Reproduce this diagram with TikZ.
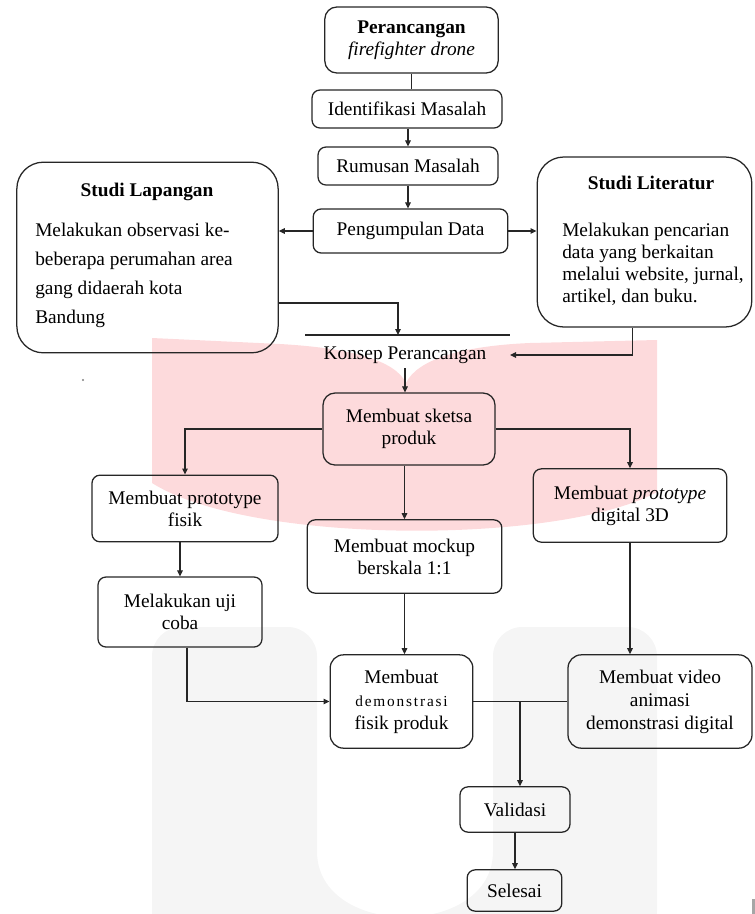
\documentclass[tikz,border=0pt]{standalone}
\usepackage{fontspec}
\setmainfont{Liberation Serif}
\newfontfamily\spacedfont[LetterSpace=12]{Liberation Serif}
\usetikzlibrary{calc,arrows.meta,positioning}
\definecolor{linec}{HTML}{262626}
\definecolor{wmred}{HTML}{FDDADC}
\definecolor{wmgray}{HTML}{F5F5F5}
\tikzset{
  ar/.style={-{Triangle[length=4.5pt,width=4.2pt]},line width=0.85pt,linec},
  ln/.style={line width=0.85pt,linec},
  box/.style={draw=linec,line width=0.95pt,rounded corners=6pt,align=center,inner sep=2pt},
  bigbox/.style={box,rounded corners=20pt},
  ttl/.style={font=\fontsize{14.5}{16.5}\selectfont\bfseries},
  body/.style={anchor=west,align=left,inner sep=0pt}
}
\begin{document}
\begin{tikzpicture}[x=0.75pt,y=-0.75pt,every node/.style={font=\fontsize{14.5}{16.5}\selectfont}]
\useasboundingbox (0,0) rectangle (755,914);
% watermark behind the chart
\begin{scope}
\clip (0,0) rectangle (755,914);
\fill[wmred] (152,338) -- (280,344) .. controls (350,348) and (395,360) .. (406,383)
  .. controls (417,360) and (460,346) .. (530,343) -- (657,340) -- (657,492)
  .. controls (560,545) and (250,545) .. (152,483) -- cycle;
\fill[wmgray,rounded corners=22pt] (152,940) -- (152,627) -- (317,627) -- (317,822)
  .. controls (317,939) and (493,939) .. (493,822) -- (493,627) -- (657,627) -- (657,940) -- cycle;
\end{scope}
\fill[gray] (83,380) circle (0.9pt);
\fill[gray!70] (752,899) rectangle (755,914);

% main column
\node[box,minimum width=130pt,minimum height=49.5pt,rounded corners=9pt] (perancangan) at (411.5,40) {\textbf{Perancangan}\\\textit{firefighter drone}};
\node[box,minimum width=142.5pt,minimum height=28.5pt] (identifikasi) at (407,109) {Identifikasi Masalah};
\node[box,minimum width=135pt,minimum height=28.5pt] (rumusan) at (408,166) {Rumusan Masalah};
\node[box,minimum width=146pt,minimum height=33pt] (pengumpulan) at (410.5,231) {Pengumpulan Data};

% side studies
\node[bigbox,minimum width=196pt,minimum height=143pt] (lapangan) at (147.5,257.5) {};
\node[ttl] (lapangantitle) at (147,192) {Studi Lapangan};
\node[body,font=\fontsize{14.5}{21.75}\selectfont] (lapanganisi) at (35,275) {Melakukan observasi ke-\\beberapa perumahan area\\gang didaerah kota\\Bandung};
\node[bigbox,minimum width=161pt,minimum height=127.5pt] (literatur) at (644.5,242) {};
\node[ttl] (literaturtitle) at (651,183) {Studi Literatur};
\node[body] (literaturisi) at (562,264) {Melakukan pencarian\\data yang berkaitan\\melalui website, jurnal,\\artikel, dan buku.};

\coordinate (barl) at (305,335);
\coordinate (barr) at (510,335);
\coordinate (barin) at (398,335);
\coordinate (konsepin) at (510,355);
\node (konsep) at (405,355) {Konsep Perancangan};

\node[box,minimum width=129pt,minimum height=54pt,rounded corners=9pt] (sketsa) at (409,429) {Membuat sketsa\\produk};
\node[box,minimum width=139.5pt,minimum height=50pt] (protofisik) at (185,508.5) {Membuat prototype\\fisik};
\node[box,minimum width=123pt,minimum height=52.5pt] (ujicoba) at (180,612) {Melakukan uji\\coba};
\node[box,minimum width=146pt,minimum height=55pt] (mockup) at (404.5,556.5) {Membuat mockup\\berskala 1:1};
\node[box,minimum width=145pt,minimum height=55pt] (protodigital) at (630,505.5) {Membuat \textit{prototype}\\digital 3D};
\node[box,minimum width=107pt,minimum height=70pt,rounded corners=10pt,font=\fontsize{14.5}{17.25}\selectfont] (demofisik) at (401.5,701.5) {Membuat\\{\spacedfont\fontsize{11.5}{17.25}\selectfont demonstrasi}\\fisik produk};
\node[box,minimum width=138pt,minimum height=70pt,rounded corners=10pt,font=\fontsize{14.5}{17.25}\selectfont] (video) at (660,701.5) {Membuat video\\animasi\\demonstrasi digital};
\node[box,minimum width=82.5pt,minimum height=34pt] (validasi) at (515,809.5) {Validasi};
\node[box,minimum width=71pt,minimum height=31pt] (selesai) at (514.5,890.5) {Selesai};
\coordinate (pisah) at (520,701.5);

% connectors
\draw[ln] (perancangan.south) -- (perancangan.south |- identifikasi.north);
\draw[ar] (identifikasi.south -| rumusan.north) -- (rumusan.north);
\draw[ar] (rumusan.south) -- (rumusan.south |- pengumpulan.north);
\draw[ar] (pengumpulan.west) -- (pengumpulan.west -| lapangan.east);
\draw[ar] (pengumpulan.east) -- (pengumpulan.east -| literatur.west);
\draw[ln] (barl) -- (barr);
\draw[ar] ($(lapangan.east)+(0,45.5)$) -| (barin);
\draw[ar] ($(literatur.south)+(-12,0)$) |- (konsepin);
\draw[ar] (konsep.south) -- (konsep.south |- sketsa.north);
\draw[ar] (sketsa.west) -| (protofisik.north);
\draw[ar] (sketsa.east) -| (protodigital.north);
\draw[ar] (mockup.north |- sketsa.south) -- (mockup.north);
\draw[ar] (ujicoba.north |- protofisik.south) -- (ujicoba.north);
\draw[ar] ($(ujicoba.south)+(7,0)$) |- (demofisik.west);
\draw[ar] (mockup.south) -- (mockup.south |- demofisik.north);
\draw[ar] (protodigital.south) -- (protodigital.south |- video.north);
\draw[ln] (demofisik.east) -- (video.west);
\draw[ar] (pisah) -- (pisah |- validasi.north);
\draw[ar] (validasi.south) -- (validasi.south |- selesai.north);
\end{tikzpicture}
\end{document}
